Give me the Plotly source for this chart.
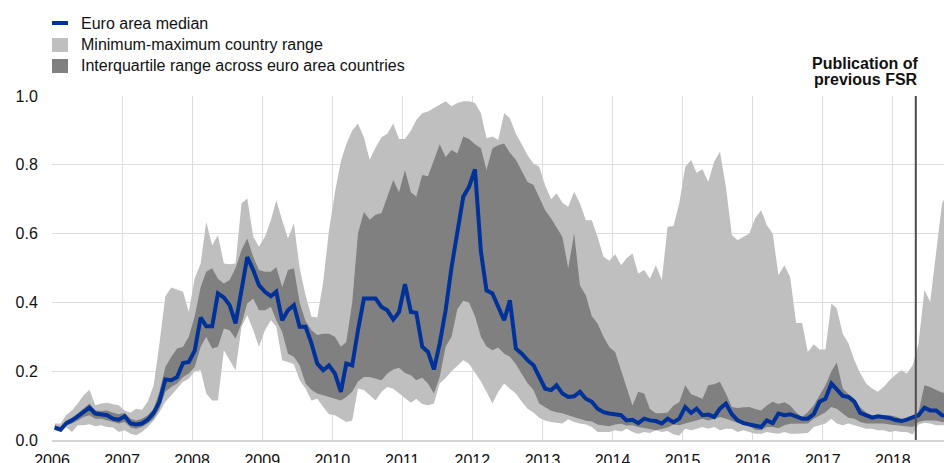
import plotly.graph_objects as go

# ---- data (monthly, Jan 2006 onward) ----
median = [
    0.036, 0.030, 0.048, 0.057, 0.069, 0.081, 0.094, 0.077, 0.075, 0.072, 0.062, 0.059,
    0.069, 0.048, 0.045, 0.048, 0.059, 0.079, 0.111, 0.176, 0.174, 0.183, 0.224, 0.227,
    0.260, 0.356, 0.331, 0.331, 0.426, 0.414, 0.392, 0.339, 0.436, 0.532, 0.494, 0.450,
    0.431, 0.418, 0.431, 0.348, 0.377, 0.392, 0.329, 0.329, 0.280, 0.222, 0.203, 0.217,
    0.193, 0.140, 0.222, 0.217, 0.319, 0.411, 0.411, 0.411, 0.387, 0.377, 0.350, 0.372,
    0.453, 0.372, 0.370, 0.271, 0.256, 0.205, 0.280, 0.377, 0.503, 0.605, 0.707, 0.736,
    0.787, 0.547, 0.435, 0.426, 0.387, 0.348, 0.406, 0.266, 0.251, 0.232, 0.217, 0.183,
    0.149, 0.145, 0.159, 0.135, 0.125, 0.127, 0.140, 0.120, 0.111, 0.091, 0.081, 0.077,
    0.075, 0.072, 0.057, 0.059, 0.049, 0.062, 0.057, 0.055, 0.048, 0.062, 0.052, 0.062,
    0.096, 0.079, 0.091, 0.072, 0.074, 0.067, 0.091, 0.106, 0.075, 0.057, 0.049, 0.045,
    0.040, 0.038, 0.057, 0.049, 0.077, 0.072, 0.075, 0.069, 0.062, 0.062, 0.075, 0.111,
    0.120, 0.164, 0.145, 0.128, 0.125, 0.111, 0.079, 0.072, 0.065, 0.069, 0.067, 0.064,
    0.058, 0.055, 0.059, 0.065, 0.072, 0.094, 0.086, 0.086, 0.072, 0.070,
]
max_range = [
    0.048, 0.048, 0.072, 0.086, 0.106, 0.130, 0.146, 0.101, 0.106, 0.108, 0.104, 0.101,
    0.086, 0.079, 0.091, 0.088, 0.111, 0.159, 0.280, 0.418, 0.443, 0.437, 0.431, 0.372,
    0.470, 0.513, 0.634, 0.566, 0.595, 0.513, 0.511, 0.513, 0.688, 0.702, 0.591, 0.562,
    0.591, 0.639, 0.697, 0.639, 0.586, 0.629, 0.500, 0.420, 0.358, 0.356, 0.460, 0.610,
    0.720, 0.810, 0.860, 0.900, 0.920, 0.880, 0.815, 0.850, 0.880, 0.890, 0.920, 0.875,
    0.875, 0.900, 0.930, 0.950, 0.955, 0.965, 0.975, 0.985, 0.970, 0.980, 0.985, 0.985,
    0.980, 0.950, 0.877, 0.882, 0.872, 0.950, 0.935, 0.890, 0.860, 0.828, 0.804, 0.794,
    0.740, 0.700, 0.717, 0.690, 0.678, 0.722, 0.688, 0.639, 0.639, 0.591, 0.533, 0.521,
    0.540, 0.508, 0.528, 0.542, 0.484, 0.494, 0.469, 0.508, 0.465, 0.620, 0.622, 0.688,
    0.794, 0.814, 0.777, 0.787, 0.751, 0.809, 0.838, 0.736, 0.596, 0.581, 0.591, 0.600,
    0.645, 0.668, 0.625, 0.600, 0.480, 0.508, 0.474, 0.340, 0.340, 0.256, 0.278, 0.263,
    0.263, 0.397, 0.382, 0.309, 0.281, 0.232, 0.194, 0.164, 0.150, 0.140, 0.155, 0.174,
    0.190, 0.203, 0.193, 0.217, 0.280, 0.436, 0.402, 0.552, 0.688, 0.720,
]
min_range = [
    0.028, 0.023, 0.038, 0.023, 0.043, 0.043, 0.046, 0.040, 0.043, 0.038, 0.036, 0.023,
    0.028, 0.018, 0.014, 0.023, 0.038, 0.057, 0.081, 0.111, 0.130, 0.149, 0.169, 0.178,
    0.200, 0.203, 0.135, 0.115, 0.115, 0.261, 0.232, 0.203, 0.329, 0.363, 0.319, 0.271,
    0.319, 0.348, 0.330, 0.232, 0.227, 0.220, 0.174, 0.149, 0.115, 0.120, 0.096, 0.075,
    0.072, 0.062, 0.052, 0.057, 0.150, 0.145, 0.130, 0.115, 0.140, 0.154, 0.149, 0.135,
    0.120, 0.108, 0.120, 0.105, 0.101, 0.106, 0.164, 0.180, 0.200, 0.215, 0.232, 0.222,
    0.195, 0.170, 0.140, 0.106, 0.140, 0.164, 0.149, 0.135, 0.111, 0.091, 0.080, 0.065,
    0.057, 0.052, 0.050, 0.048, 0.060, 0.052, 0.048, 0.045, 0.038, 0.023, 0.023, 0.023,
    0.028, 0.025, 0.033, 0.023, 0.018, 0.023, 0.020, 0.028, 0.023, 0.026, 0.016, 0.013,
    0.033, 0.028, 0.033, 0.038, 0.033, 0.038, 0.028, 0.033, 0.033, 0.023, 0.028, 0.023,
    0.018, 0.018, 0.023, 0.020, 0.018, 0.023, 0.018, 0.018, 0.018, 0.020, 0.038, 0.043,
    0.048, 0.062, 0.048, 0.043, 0.048, 0.043, 0.038, 0.033, 0.033, 0.028, 0.028, 0.023,
    0.026, 0.023, 0.023, 0.016, 0.045, 0.050, 0.048, 0.043, 0.043, 0.043,
]
q1 = [
    0.033, 0.028, 0.043, 0.048, 0.057, 0.067, 0.072, 0.062, 0.062, 0.057, 0.052, 0.048,
    0.052, 0.036, 0.033, 0.038, 0.048, 0.062, 0.091, 0.140, 0.154, 0.164, 0.183, 0.193,
    0.212, 0.271, 0.300, 0.266, 0.271, 0.324, 0.319, 0.295, 0.339, 0.397, 0.411, 0.377,
    0.377, 0.387, 0.348, 0.314, 0.251, 0.242, 0.217, 0.164, 0.145, 0.135, 0.130, 0.125,
    0.120, 0.115, 0.125, 0.140, 0.170, 0.183, 0.183, 0.178, 0.174, 0.193, 0.205, 0.210,
    0.195, 0.188, 0.174, 0.181, 0.164, 0.135, 0.183, 0.271, 0.300, 0.380, 0.405, 0.400,
    0.360, 0.300, 0.272, 0.261, 0.269, 0.251, 0.242, 0.220, 0.190, 0.165, 0.145, 0.106,
    0.095, 0.085, 0.081, 0.078, 0.072, 0.067, 0.060, 0.056, 0.054, 0.045, 0.042, 0.040,
    0.045, 0.047, 0.042, 0.043, 0.038, 0.036, 0.032, 0.028, 0.033, 0.036, 0.045, 0.043,
    0.048, 0.052, 0.057, 0.062, 0.057, 0.062, 0.067, 0.062, 0.055, 0.050, 0.045, 0.040,
    0.030, 0.028, 0.038, 0.038, 0.034, 0.043, 0.047, 0.048, 0.048, 0.048, 0.062, 0.072,
    0.081, 0.096, 0.091, 0.077, 0.065, 0.062, 0.052, 0.048, 0.048, 0.049, 0.048, 0.045,
    0.043, 0.040, 0.038, 0.038, 0.052, 0.057, 0.057, 0.057, 0.052, 0.052,
]
q3 = [
    0.043, 0.038, 0.057, 0.065, 0.077, 0.091, 0.106, 0.086, 0.084, 0.086, 0.079, 0.075,
    0.079, 0.062, 0.057, 0.062, 0.072, 0.091, 0.140, 0.212, 0.242, 0.266, 0.271, 0.300,
    0.360, 0.445, 0.489, 0.499, 0.469, 0.455, 0.465, 0.500, 0.552, 0.586, 0.532, 0.494,
    0.489, 0.489, 0.503, 0.445, 0.494, 0.499, 0.400, 0.345, 0.319, 0.305, 0.309, 0.309,
    0.300, 0.271, 0.285, 0.400, 0.600, 0.663, 0.640, 0.655, 0.660, 0.707, 0.756, 0.720,
    0.785, 0.720, 0.707, 0.770, 0.767, 0.814, 0.860, 0.823, 0.843, 0.833, 0.882, 0.875,
    0.860, 0.848, 0.785, 0.848, 0.857, 0.862, 0.835, 0.815, 0.780, 0.750, 0.741, 0.707,
    0.668, 0.644, 0.620, 0.590, 0.499, 0.600, 0.450, 0.420, 0.360, 0.339, 0.300, 0.270,
    0.255, 0.200, 0.150, 0.100, 0.140, 0.135, 0.090, 0.078, 0.078, 0.080, 0.100, 0.110,
    0.159, 0.133, 0.127, 0.120, 0.159, 0.162, 0.169, 0.135, 0.096, 0.093, 0.095, 0.096,
    0.090, 0.086, 0.100, 0.111, 0.105, 0.110, 0.100, 0.081, 0.067, 0.081, 0.101, 0.130,
    0.159, 0.200, 0.225, 0.150, 0.133, 0.120, 0.095, 0.080, 0.072, 0.072, 0.072, 0.072,
    0.068, 0.062, 0.062, 0.070, 0.080, 0.159, 0.154, 0.145, 0.138, 0.135,
]
dates = [f"{2006 + i // 12}-{i % 12 + 1:02d}-15" for i in range(len(median))]

legend_labels = [
    "Euro area median",
    "Minimum-maximum country range",
    "Interquartile range across euro area countries",
]
publication_date = "2018-05-01"
publication_text = ["Publication of", "previous FSR"]

BLUE = "#003299"
LIGHT = "#bfbfbf"
DARK = "#808080"
FONT = "Liberation Sans, Arial, sans-serif"

fig = go.Figure()
fig.add_trace(go.Scatter(x=dates, y=min_range, mode="lines", line=dict(width=0, color=LIGHT),
                         showlegend=False, hoverinfo="skip"))
fig.add_trace(go.Scatter(x=dates, y=max_range, mode="lines", line=dict(width=0, color=LIGHT),
                         fill="tonexty", fillcolor=LIGHT, showlegend=False))
fig.add_trace(go.Scatter(x=dates, y=q1, mode="lines", line=dict(width=0, color=DARK),
                         showlegend=False, hoverinfo="skip"))
fig.add_trace(go.Scatter(x=dates, y=q3, mode="lines", line=dict(width=0, color=DARK),
                         fill="tonexty", fillcolor=DARK, showlegend=False))
fig.add_trace(go.Scatter(x=dates, y=median, mode="lines", line=dict(width=4, color=BLUE),
                         showlegend=False))

W, H = 944, 463
L, R, T, B = 52, 0, 96, 23
pw, ph = W - L - R, H - T - B
def px(x):
    return (x - L) / pw
def py(y):
    return (H - B - y) / ph

shapes = [
    dict(type="line", xref="x", yref="paper", x0=publication_date, x1=publication_date,
         y0=0, y1=1, line=dict(color="#4d4d4d", width=2), layer="above"),
    dict(type="rect", xref="paper", yref="paper", x0=px(52), x1=px(68), y0=py(25), y1=py(21),
         fillcolor=BLUE, line=dict(width=0)),
    dict(type="rect", xref="paper", yref="paper", x0=px(52), x1=px(68), y0=py(52), y1=py(38),
         fillcolor=LIGHT, line=dict(width=0)),
    dict(type="rect", xref="paper", yref="paper", x0=px(52), x1=px(68), y0=py(73), y1=py(59),
         fillcolor=DARK, line=dict(width=0)),
]
annotations = []
for lbl, yc in zip(legend_labels, [23, 44.5, 65.5]):
    annotations.append(dict(text=lbl, xref="paper", yref="paper", x=px(79), y=py(yc),
                            xanchor="left", yanchor="middle", showarrow=False,
                            font=dict(family=FONT, size=16, color="#111")))
for txt, yc in zip(publication_text, [63, 80]):
    annotations.append(dict(text=f"<b>{txt}</b>", xref="paper", yref="paper", x=px(920), y=py(yc),
                            xanchor="right", yanchor="middle", showarrow=False,
                            font=dict(family=FONT, size=16, color="#111")))

fig.update_layout(
    width=W, height=H,
    margin=dict(l=L, r=R, t=T, b=B, pad=0, autoexpand=False),
    paper_bgcolor="white", plot_bgcolor="white",
    font=dict(family=FONT, size=16, color="#111"),
    showlegend=False,
    shapes=shapes, annotations=annotations,
    xaxis=dict(type="date", range=["2006-01-01", "2018-09-25"], dtick="M12",
               tick0="2006-01-01", tickformat="%Y", showgrid=True, gridcolor="#dedede",
               gridwidth=1, showline=True, linecolor="#d4d4d4", linewidth=2,
               ticks="outside", ticklen=5, tickcolor="rgba(0,0,0,0)", zeroline=False,
               tickfont=dict(size=16), automargin=False, ticklabeloverflow="allow"),
    yaxis=dict(range=[0, 1], dtick=0.2, tickformat=".1f", showgrid=True, gridcolor="#dedede",
               gridwidth=1, zeroline=False, showline=False, ticks="outside", ticklen=10,
               tickcolor="rgba(0,0,0,0)", tickfont=dict(size=16), automargin=False,
               ticklabeloverflow="allow"),
)

page_fix = ("document.documentElement.style.overflow='hidden';"
            "document.body.style.margin='0';document.body.style.overflow='hidden';")
fig.write_html("out.html", post_script=page_fix, config={"displayModeBar": False})
